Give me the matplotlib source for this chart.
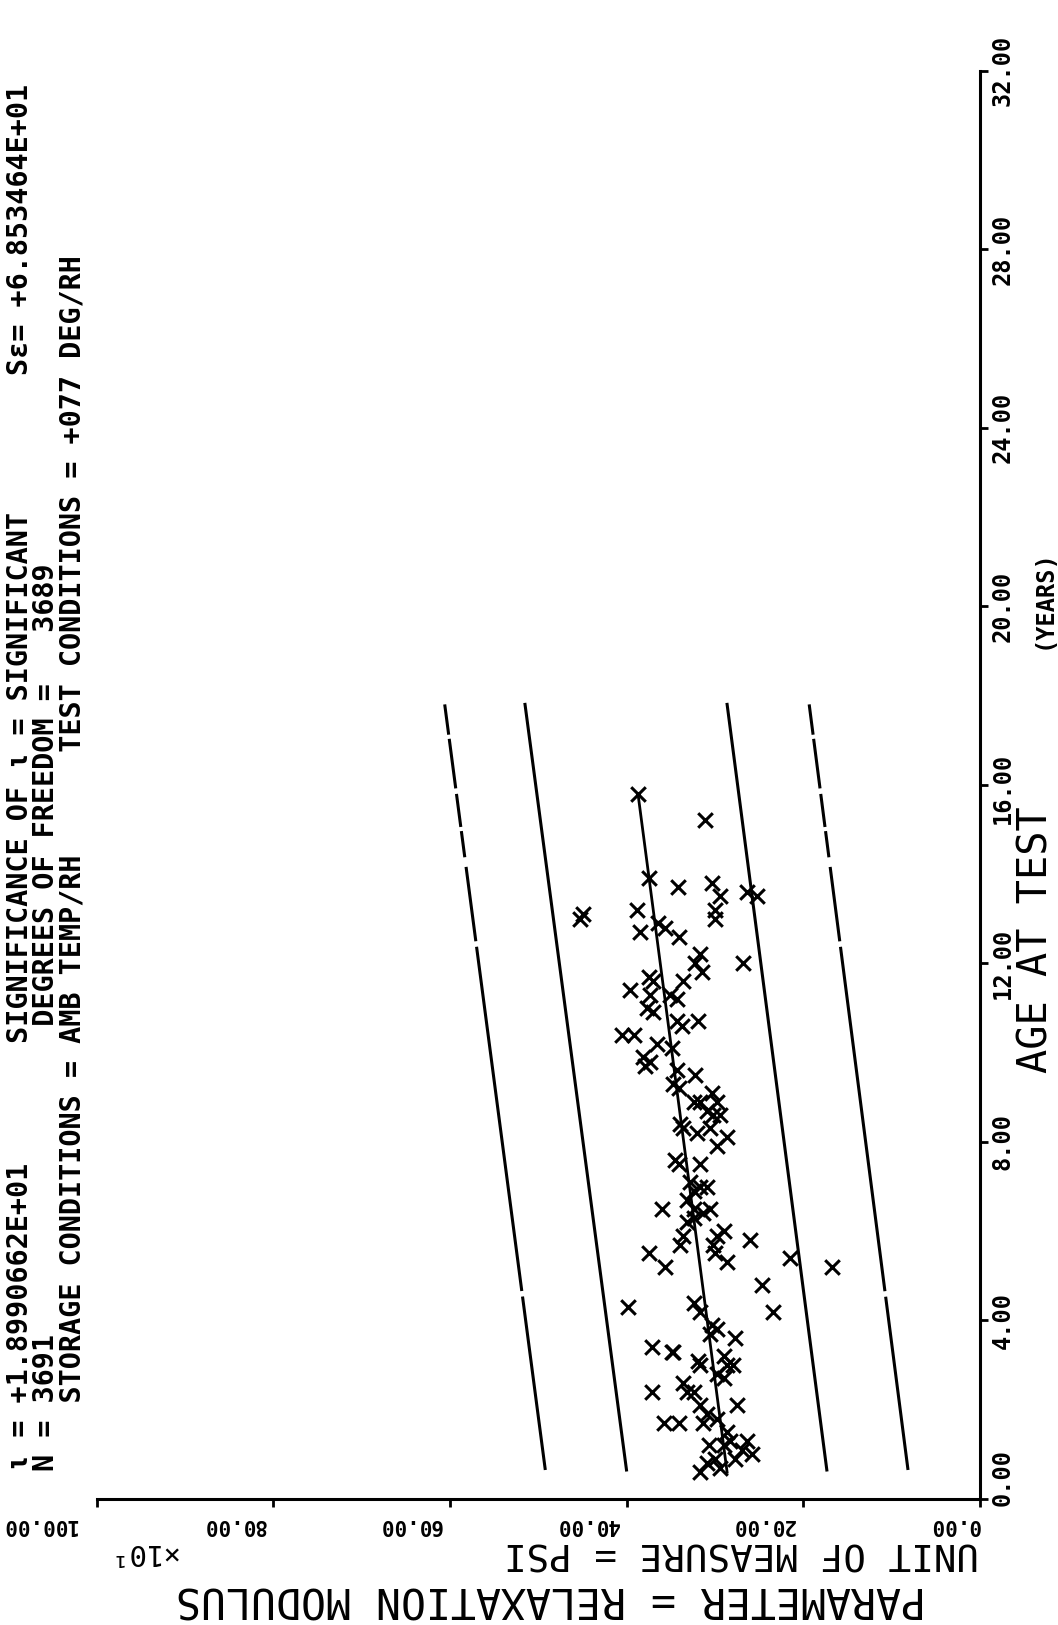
import matplotlib
matplotlib.use("Agg")
import matplotlib.pyplot as plt
from matplotlib.transforms import blended_transform_factory, ScaledTranslation

plt.rcParams["font.family"] = ["DejaVu Sans Mono", "DejaVu Sans"]
plt.rcParams["lines.scale_dashes"] = False

# age at test (years) and relaxation modulus (x10 psi), one entry per specimen
age = [15.8, 15.2, 13.9, 13.7, 13.8, 13.5, 13.2, 13.0, 13.6, 13.5,
       13.1, 13.0, 13.2, 12.7, 12.9, 12.8, 12.6, 12.0, 12.2, 12.0,
       11.8, 11.7, 11.6, 11.3, 11.4, 11.6, 11.3, 11.2, 11.0, 10.9,
       10.7, 10.7, 10.6, 10.4, 10.4, 9.9, 9.8, 9.7, 10.2, 10.1,
       9.6, 9.3, 9.2, 9.5, 8.9, 9.1, 8.9, 8.6, 8.7, 8.4,
       8.9, 8.6, 8.3, 8.2, 8.3, 8.1, 7.9, 7.6, 7.5, 7.5,
       7.1, 6.9, 7.0, 7.0, 6.7, 6.5, 6.5, 6.4, 6.5, 6.2,
       6.3, 6.0, 5.9, 5.9, 5.7, 5.8, 5.5, 5.2, 5.7, 5.5,
       5.3, 5.4, 4.8, 4.3, 4.2, 4.4, 4.2, 3.9, 3.8, 3.7,
       3.6, 3.4, 3.3, 3.3, 3.1, 3.0, 3.2, 3.0, 3.0, 2.6,
       2.4, 2.4, 2.8, 2.7, 2.4, 2.1, 2.1, 1.9, 1.7, 1.7,
       1.7, 1.8, 1.5, 1.3, 1.2, 1.3, 1.0, 1.1, 1.2, 0.9,
       0.8, 0.6, 0.7, 0.9, 5.2]
modulus = [38.7, 31.1, 37.4, 34.2, 30.3, 29.4, 30.0, 30.0, 26.4, 25.2,
           44.9, 45.3, 38.8, 38.5, 36.4, 35.6, 34.1, 26.8, 31.7, 32.2,
           31.5, 37.5, 37.0, 37.3, 39.6, 33.6, 35.1, 34.3, 37.7, 37.0,
           31.9, 34.3, 33.7, 40.5, 39.2, 38.1, 37.3, 37.9, 36.6, 34.9,
           34.3, 34.7, 34.1, 32.2, 31.7, 30.3, 29.8, 29.4, 30.9, 33.9,
           32.4, 30.2, 33.6, 32.0, 30.5, 28.6, 29.8, 34.5, 34.1, 31.7,
           32.8, 32.4, 31.7, 30.9, 33.2, 32.4, 30.5, 31.3, 36.0, 33.2,
           32.4, 29.0, 29.8, 33.6, 33.9, 26.0, 37.5, 35.6, 30.2, 30.0,
           28.6, 21.5, 24.7, 39.8, 23.4, 32.4, 31.7, 30.3, 29.8, 30.5,
           27.7, 37.1, 34.9, 34.7, 31.9, 31.7, 29.0, 28.6, 27.9, 33.6,
           33.2, 32.4, 29.8, 29.0, 37.1, 27.5, 31.7, 30.9, 31.3, 35.8,
           34.1, 29.8, 28.6, 28.3, 29.0, 26.4, 25.8, 26.9, 30.7, 30.0,
           30.9, 31.7, 29.4, 27.7, 16.7]

# fitted line and limit lines, values at the two ends
fit_age = [0.6, 15.8]
fit_mod = [28.6, 38.7]
band_age = [17.8, 0.65]
upper_outer = [60.6, 49.2]
upper_inner = [51.5, 40.0]
lower_inner = [28.6, 17.3]
lower_outer = [19.3, 8.1]

mod_ticks = [0, 20, 40, 60, 80, 100]
mod_labels = ["0.00", "20.00", "40.00", "60.00", "80.00", "100.00"]
age_ticks = [0, 4, 8, 12, 16, 20, 24, 28, 32]
age_labels = ["0.00", "4.00", "8.00", "12.00", "16.00", "20.00", "24.00", "28.00", "32.00"]

header_lines = [
    "ι = +1.8990662E+01       SIGNIFICANCE OF ι = SIGNIFICANT        Sε= +6.853464E+01",
    "N = 3691                  DEGREES OF FREEDOM =   3689",
    "    STORAGE CONDITIONS = AMB TEMP/RH      TEST CONDITIONS = +077 DEG/RH",
]

W, H = 1058, 1625
fig = plt.figure(figsize=(W / 100, H / 100), dpi=100)
ax = fig.add_axes([97 / W, 1 - 1499 / H, 882.5 / W, 1428.5 / H])

ax.set_xlim(100, 0)
ax.set_ylim(0, 32)
for side in ["top", "left"]:
    ax.spines[side].set_visible(False)
for side in ["bottom", "right"]:
    ax.spines[side].set_linewidth(2.2)
ax.yaxis.tick_right()
ax.set_xticks(mod_ticks)
ax.set_yticks(age_ticks)
ax.tick_params(direction="out", length=6, width=2, labelbottom=False, labelright=False)

dash = (0, (22, 3, 36, 4, 24, 3, 19, 7, 54, 4, 250, 4, 400))
ax.plot(upper_outer, band_age, color="black", lw=2.2, linestyle=dash)
ax.plot(lower_outer, band_age, color="black", lw=2.2, linestyle=dash)
ax.plot(upper_inner, band_age, color="black", lw=2.2)
ax.plot(lower_inner, band_age, color="black", lw=2.2)
ax.plot(fit_mod, fit_age, color="black", lw=2)
ax.scatter(modulus, age, marker="x", s=110, linewidths=2.2, color="black", zorder=3)

# tick labels: upside down along the bottom, reading upwards on the right
bot = blended_transform_factory(ax.transData, ax.transAxes)
for val, lab, dx in zip(mod_ticks, mod_labels, [0, -8, -8, -8, -8, -20]):
    ax.text(val, 0, lab, rotation=180, ha="right", va="center", fontsize=15, fontweight="bold",
            transform=bot + ScaledTranslation(dx / 100, -0.26, fig.dpi_scale_trans))
rgt = blended_transform_factory(ax.transAxes, ax.transData)
for val, lab, dy in zip(age_ticks, age_labels, [22, 0, 0, 0, -4, 0, 0, 0, 0]):
    ax.text(1, val, lab, rotation=90, ha="center", va="center", fontsize=17, fontweight="bold",
            transform=rgt + ScaledTranslation(0.23, dy / 100, fig.dpi_scale_trans))

fig.text(1037 / W, 1 - 940 / H, "AGE AT TEST", rotation=90, ha="center", va="center", fontsize=29)
fig.text(1044 / W, 1 - 599 / H, "(YEARS)", rotation=90, ha="center", va="center",
         fontsize=17, fontweight="bold")

fig.text(741 / W, 1 - 1553 / H, "UNIT OF MEASURE = PSI", rotation=180, ha="center", va="center", fontsize=27)
fig.text(142 / W, 1 - 1552 / H, "×10¹", rotation=180, ha="center", va="center", fontsize=21)
fig.text(551 / W, 1 - 1598 / H, "PARAMETER = RELAXATION MODULUS", rotation=180, ha="center", va="center", fontsize=30)

# run header, printed sideways down the left edge
fig.text(6 / W, 1 - 1471 / H, "\n".join(header_lines), rotation=90, rotation_mode="anchor",
         ha="left", va="top", multialignment="left", linespacing=0.925,
         fontsize=20.5, fontweight="bold")

fig.savefig("out.png", dpi=100)
